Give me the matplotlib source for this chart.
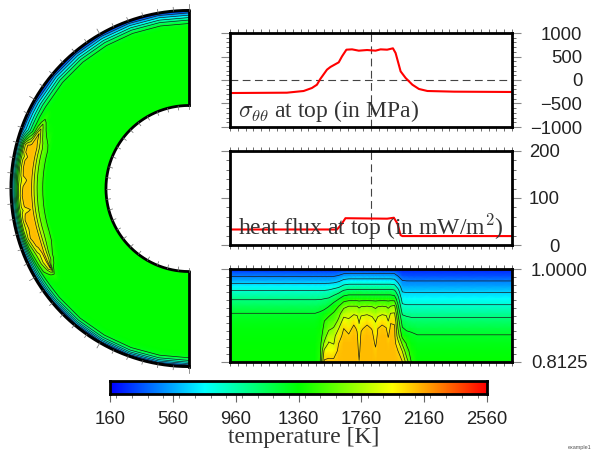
import numpy as np
import matplotlib
matplotlib.use('Agg')
import matplotlib.pyplot as plt
from matplotlib.colors import LinearSegmentedColormap
from matplotlib.ticker import MultipleLocator

plt.rcParams['font.family'] = 'Liberation Sans'
plt.rcParams['mathtext.fontset'] = 'cm'

W, H = 592, 451

# stress at the top surface, MPa
stress_theta = [0, 36.3, 47.0, 52.3, 55.5, 57.6, 61.9, 64.1, 69.4, 71.5, 74.3, 77.9, 82.2, 87.5, 92.9, 96.1,
                100.3, 104.0, 105.7, 108.9, 112.1, 116.4, 120.6, 126.0, 143.0, 180]
stress_mpa = [-277, -270, -234, -170, -100, 20, 220, 277, 376, 503, 645, 652, 624, 638, 624, 652,
              645, 674, 574, 184, 43, -100, -191, -234, -248, -255]

# heat flux at the top surface, mW/m2
flux_theta = [0, 68.3, 70.9, 73.7, 100.3, 104.6, 106.8, 108.9, 110.0, 180]
flux_mw = [33, 33, 43, 57, 56, 58, 46, 21, 19, 19]

# depth below the surface, in units of the 0.8125-1.0 radius panel
depths = [0, .007, .015, .025, .035, .045, .06, .075, .09, .105, .12, .135, .15, .165, .1875, .21, .24, .27, .33,
          .36, .97]

# temperature columns, surface downwards (the two deepest rows are 1360 everywhere)
cold_left = [250, 360, 460, 600, 750, 880, 1045, 1160, 1265, 1310, 1335, 1350, 1358, 1360, 1360,
             1360, 1360, 1360, 1360]
cold_right = [250, 300, 360, 470, 550, 640, 760, 885, 1005, 1115, 1205, 1270, 1310, 1340, 1360,
              1360, 1360, 1360, 1360]
plateau = [250, 430, 570, 755, 940, 1140, 1390, 1660, 1835, 2015, 2100, 2110, 2110, 2110, 2110,
           2060, 1820, 1640, 1440]
temperature_columns = {
    0: cold_left, 10: cold_left, 20: cold_left, 30: cold_left, 40: cold_left, 50: cold_left, 54.4: cold_left,
    57.6: [250, 360, 460, 600, 750, 880, 1045, 1180, 1290, 1340, 1370, 1390, 1410, 1430, 1460, 1400, 1360, 1360, 1360],
    60.2: [250, 360, 460, 600, 750, 885, 1060, 1200, 1330, 1460, 1500, 1560, 1700, 1900, 2100, 1500, 1400, 1360, 1360],
    63.0: [250, 360, 460, 600, 760, 900, 1080, 1250, 1420, 1520, 1620, 1780, 1880, 1960, 2110, 1900, 1600, 1430, 1360],
    66.2: [250, 360, 460, 610, 780, 950, 1150, 1370, 1480, 1560, 1680, 1800, 1850, 1950, 2110, 2000, 1700, 1500, 1380],
    69.4: [250, 380, 490, 650, 820, 1000, 1250, 1460, 1600, 1700, 1860, 2000, 2060, 2100, 2110, 2050, 1780, 1600, 1420],
    72.6: [250, 420, 550, 730, 910, 1100, 1360, 1610, 1780, 1950, 2060, 2100, 2110, 2110, 2110, 2060, 1820, 1640, 1440],
    75.8: [250, 430, 570, 755, 940, 1140, 1390, 1660, 1820, 1880, 2000, 2080, 2110, 2110, 2110, 2060, 1820, 1640, 1440],
    79.0: plateau,
    81.1: [250, 430, 570, 755, 940, 1140, 1390, 1660, 1830, 1950, 2040, 2090, 2110, 2110, 2110, 2060, 1820, 1640, 1440],
    82.4: [250, 430, 570, 755, 940, 1140, 1390, 1620, 1780, 1840, 1900, 1950, 1990, 2030, 2065, 2060, 1820, 1640, 1440],
    83.7: [250, 430, 570, 755, 940, 1140, 1390, 1650, 1820, 1950, 2040, 2090, 2110, 2110, 2110, 2060, 1820, 1640, 1440],
    87.5: plateau,
    90.7: [250, 430, 570, 755, 940, 1140, 1390, 1650, 1800, 1950, 2050, 2100, 2110, 2110, 2110, 2060, 1820, 1640, 1440],
    92.9: [250, 430, 570, 755, 940, 1140, 1390, 1620, 1750, 1850, 1920, 1980, 2040, 2080, 2110, 2060, 1820, 1640, 1440],
    94.4: [250, 430, 570, 755, 940, 1140, 1390, 1650, 1800, 1950, 2060, 2100, 2110, 2110, 2110, 2060, 1820, 1640, 1440],
    97.1: plateau,
    99.7: [250, 430, 570, 755, 940, 1140, 1390, 1650, 1820, 1980, 2070, 2110, 2110, 2110, 2110, 2060, 1820, 1640, 1440],
    101.0: [250, 430, 570, 755, 940, 1140, 1390, 1620, 1760, 1860, 1950, 2050, 2100, 2110, 2110, 2060, 1820, 1640, 1440],
    102.5: [250, 430, 570, 755, 940, 1140, 1390, 1660, 1870, 2040, 2100, 2110, 2110, 2110, 2110, 2060, 1820, 1640, 1440],
    105.0: [250, 420, 560, 740, 920, 1110, 1370, 1700, 1880, 2030, 2090, 2100, 2110, 2110, 2110, 2060, 1820, 1640, 1440],
    107.2: [250, 350, 470, 620, 790, 950, 1140, 1300, 1450, 1570, 1660, 1760, 1950, 2060, 2110, 2000, 1750, 1580, 1400],
    110.0: [250, 300, 380, 480, 560, 650, 780, 900, 1040, 1170, 1280, 1400, 1620, 1850, 2070, 1800, 1580, 1460, 1370],
    112.7: [250, 300, 370, 470, 550, 640, 760, 885, 1020, 1130, 1225, 1340, 1440, 1520, 1780, 1600, 1440, 1380, 1360],
    115.7: [250, 300, 360, 470, 550, 640, 760, 885, 1005, 1115, 1230, 1290, 1340, 1400, 1460, 1400, 1360, 1360, 1360],
    119.6: cold_right, 130: cold_right, 140: cold_right, 150: cold_right, 160: cold_right, 170: cold_right,
    180: cold_right,
}
contour_levels = [460, 660, 860, 1060, 1260, 1460, 1660, 1860, 2060]

rainbow = LinearSegmentedColormap.from_list('rainbow', ['#0000ff', '#00ffff', '#00ff00', '#ffff00', '#ff0000'])
t_min, t_max = 160, 2560

theta = np.array(list(temperature_columns.keys()), dtype=float)
depth = np.array(depths)
temperature = np.array([col + [1360, 1360] for col in temperature_columns.values()], dtype=float).T


def pixel_axes(left, top, right, bottom):
    return fig.add_axes([left / W, 1 - bottom / H, (right - left) / W, (bottom - top) / H])


def panel(top, bottom, ylim, ylabels, yticks, pad, minor):
    ax = pixel_axes(230, top, 512, bottom)
    ax.set_xlim(0, 180)
    ax.set_ylim(*ylim)
    for spine in ax.spines.values():
        spine.set_linewidth(2.0)
        spine.set_zorder(6)
    ax.xaxis.set_major_locator(MultipleLocator(5))
    ax.xaxis.set_ticklabels([])
    ax.tick_params(axis='x', which='major', top=True, bottom=True, length=3.2, width=0.6, color='#555555')
    ax.set_yticks(yticks)
    ax.set_yticklabels(ylabels, ha='right', fontsize=13.3, color='#222222')
    ax.yaxis.set_minor_locator(MultipleLocator(minor))
    ax.tick_params(axis='y', which='major', left=True, right=True, labelleft=False, labelright=True,
                   length=6.5, width=0.8, color='#888888', pad=pad)
    ax.tick_params(axis='y', which='minor', left=True, right=True, length=3.2, width=0.6, color='#555555')
    return ax


fig = plt.figure(figsize=(W / 100, H / 100), dpi=100)

# half annulus on the left
r_scale = 0.55
R_px = 178.0
ann = pixel_axes(0, 0, 200, 380)
ann.set_xlim(-189 / R_px, 11 / R_px)
ann.set_ylim(-191.5 / R_px, 188.5 / R_px)
ann.axis('off')
phi = np.radians(270 - theta)
radius = 1 - r_scale * depth
PHI, RAD = np.meshgrid(phi, radius)
X, Y = RAD * np.cos(PHI), RAD * np.sin(PHI)
ann.pcolormesh(X, Y, temperature, cmap=rainbow, vmin=t_min, vmax=t_max, shading='gouraud')
ann.contour(X, Y, temperature, levels=contour_levels, colors='#1a1a1a', linewidths=0.5)

arc = np.radians(np.arange(90, 270.5, 1))
r_in, r_out = radius[-1], radius[0]
ann.plot(r_out * np.cos(arc), r_out * np.sin(arc), color='black', lw=2.2, solid_capstyle='projecting')
ann.plot(r_in * np.cos(arc), r_in * np.sin(arc), color='black', lw=2.0, solid_capstyle='projecting')
ann.plot([0, 0], [r_in, r_out], color='black', lw=2.0)
ann.plot([0, 0], [-r_in, -r_out], color='black', lw=2.0)
for a in np.arange(90, 271, 5):
    c, s = np.cos(np.radians(a)), np.sin(np.radians(a))
    tick = 0.034 if a % 30 == 0 else 0.022
    ann.plot([r_out * c, (r_out + tick) * c], [r_out * s, (r_out + tick) * s], color='#666666', lw=0.5)
for a in np.arange(90, 271, 7.5):
    c, s = np.cos(np.radians(a)), np.sin(np.radians(a))
    ann.plot([r_in * c, (r_in - 0.022) * c], [r_in * s, (r_in - 0.022) * s], color='#666666', lw=0.5)

# stress
ax1 = panel(33, 127, (-1000, 1000), ['1000', '500', '0', '\u2212500', '\u22121000'],
            [1000, 500, 0, -500, -1000], 44, 100)
ax1.axhline(0, color='#444444', lw=0.8, dashes=(7, 4))
ax1.axvline(90, color='#444444', lw=0.8, dashes=(7, 4))
ax1.plot(stress_theta, stress_mpa, color='#ff0000', lw=1.5)
ax1.text(0.028, 0.106, r'$\sigma_{\theta\theta}$ at top (in MPa)', transform=ax1.transAxes,
         family='Liberation Serif', fontsize=17, color='#333333', va='baseline')

# heat flux
ax2 = panel(151, 245, (0, 200), ['200', '100', '0'], [200, 100, 0], 28, 20)
ax2.axvline(90, color='#444444', lw=0.8, dashes=(7, 4))
ax2.plot(flux_theta, flux_mw, color='#ff0000', lw=1.5)
ax2.text(0.028, 0.106, r'heat flux at top (in mW/m$^2$)', transform=ax2.transAxes,
         family='Liberation Serif', fontsize=17, color='#333333', va='baseline')

# temperature, top layer
ax3 = panel(269, 362, (0.8125, 1.0), ['1.0000', '0.8125'], [1.0, 0.8125], 47.7, 0.015625)
RAD3 = 1 - depth
ax3.pcolormesh(theta, RAD3, temperature, cmap=rainbow, vmin=t_min, vmax=t_max, shading='gouraud')
ax3.contour(theta, RAD3, temperature, levels=contour_levels, colors='#1a1a1a', linewidths=0.5)

# colour bar
cax = pixel_axes(110, 381, 487, 394)
gradient = np.linspace(t_min, t_max, 256).reshape(1, -1)
cax.imshow(gradient, extent=(t_min, t_max, 0, 1), aspect='auto', cmap=rainbow, vmin=t_min, vmax=t_max)
for spine in cax.spines.values():
    spine.set_linewidth(2.0)
cax.set_yticks([])
cax.set_xticks(np.arange(160, 2561, 400))
cax.xaxis.set_minor_locator(MultipleLocator(100))
cax.tick_params(axis='x', which='major', length=6, width=0.8, color='#666666', labelsize=13.3, pad=6,
                labelcolor='#222222')
cax.tick_params(axis='x', which='minor', length=3, width=0.6, color='#666666')
cax.text(0.513, -3.38, 'temperature [K]', transform=cax.transAxes, family='Liberation Serif', fontsize=17,
         color='#333333', ha='center', va='center')

fig.text(591 / W, 1 - 450 / H, 'example1', fontsize=4, color='#555555', ha='right', va='bottom')

fig.savefig('out.png', dpi=100)
